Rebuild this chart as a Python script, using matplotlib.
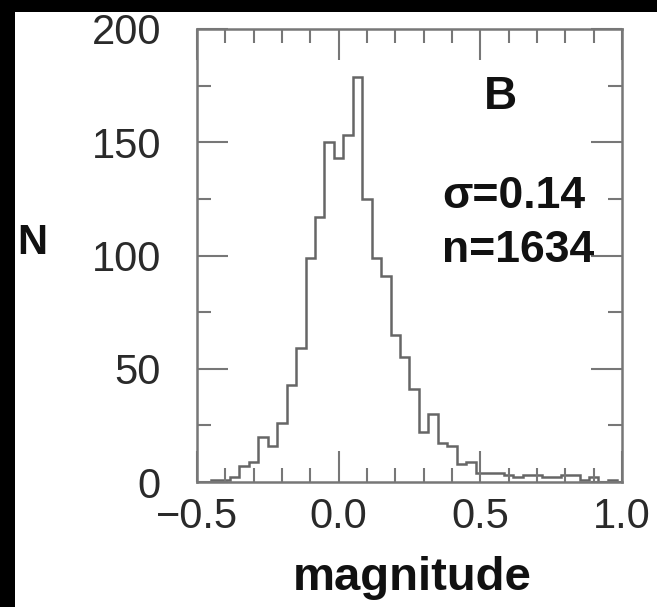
import numpy as np
import matplotlib.pyplot as plt
from matplotlib.patches import Rectangle
from matplotlib.ticker import MultipleLocator

plt.rcParams['font.family'] = ['Liberation Sans', 'DejaVu Sans']

# counts per bin; bins are 1/30 mag wide, centred on k/30 from k = -13
first_bin = -13
counts = [1, 1, 2, 7, 9, 20, 16, 26, 43, 59, 99, 117, 150, 143, 153, 179,
          125, 99, 91, 65, 55, 41, 22, 30, 17, 16, 8, 9, 4,
          4, 4, 3, 2, 3, 3, 2, 2, 3, 3, 1, 2, 0, 1]
bin_width = 1 / 30

x_ticks = [-0.5, 0.0, 0.5, 1.0]
y_ticks = [0, 50, 100, 150, 200]
band = 'B'
sigma_text = 'σ=0.14'
n_text = 'n=1634'

edges = (np.arange(first_bin, first_bin + len(counts) + 1) - 0.5) * bin_width

fig = plt.figure(figsize=(6.57, 6.07), dpi=100, facecolor='black')
fig.add_artist(Rectangle((15 / 657, 0), 1, 595 / 607, transform=fig.transFigure,
                         facecolor='white', edgecolor='none', zorder=-10))

ax = fig.add_axes([197 / 657, 125 / 607, 425 / 657, 453 / 607])
ax.set_facecolor('white')

ax.stairs(counts, edges, baseline=0, color='#666666', lw=1.8)

ax.set_xlim(-0.5, 1.0)
ax.set_ylim(0, 200)
ax.set_xticks(x_ticks)
ax.set_xticklabels([('%.1f' % t).replace('-', '\u2212') for t in x_ticks])
ax.set_yticks(y_ticks)
ax.xaxis.set_minor_locator(MultipleLocator(0.1))
ax.yaxis.set_minor_locator(MultipleLocator(25))

for s in ax.spines.values():
    s.set_color('#777777')
    s.set_linewidth(1.8)

ax.tick_params(which='both', direction='in', top=True, right=True,
               color='#777777', width=1.5, labelcolor='#2a2a2a')
ax.tick_params(which='major', length=22, labelsize=30)
ax.tick_params(which='minor', length=10)
ax.tick_params(axis='x', which='major', pad=11)
ax.tick_params(axis='y', which='major', pad=26)

ax.text(0.57, 170, band, fontsize=33, fontweight='bold', ha='center', va='center',
        color='#111111')
ax.text(0.364, 126, sigma_text, fontsize=32, fontweight='bold', ha='left', va='center',
        color='#111111')
ax.text(0.364, 102, n_text, fontsize=32, fontweight='bold', ha='left', va='center',
        color='#111111')

fig.text(32 / 657, 1 - 243 / 607, 'N', fontsize=30, fontweight='bold',
         ha='center', va='center', color='#111111')
fig.text(412 / 657, 1 - 578 / 607, 'magnitude', fontsize=34, fontweight='bold',
         ha='center', va='center', color='#111111')

fig.savefig('out.png', dpi=100, facecolor='black')
